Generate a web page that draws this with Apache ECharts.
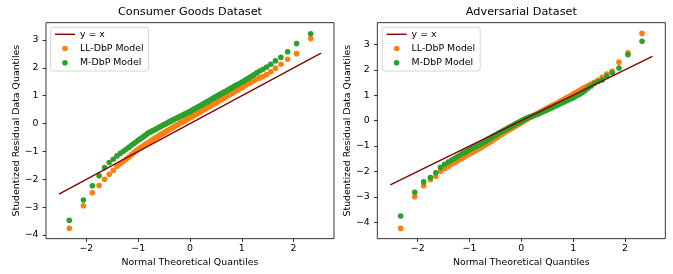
<!DOCTYPE html>
<html>
<head>
<meta charset="utf-8">
<script src="https://cdn.jsdelivr.net/npm/echarts@6/dist/echarts.min.js"></script>
<style>
html,body{margin:0;padding:0;background:#fff;}
#c{width:673px;height:274px;}
</style>
</head>
<body>
<div id="c"></div>
<script>
// Theoretical normal quantiles (x positions of the 100 points)
const theoreticalQuantiles = [
-2.330,-2.058,-1.885,-1.755,-1.650,-1.560,-1.481,-1.410,-1.346,-1.287,
-1.232,-1.180,-1.132,-1.086,-1.042,-1.000,-0.960,-0.922,-0.885,-0.849,
-0.814,-0.780,-0.746,-0.714,-0.682,-0.651,-0.621,-0.591,-0.561,-0.533,
-0.504,-0.477,-0.449,-0.422,-0.395,-0.368,-0.342,-0.315,-0.289,-0.263,
-0.238,-0.212,-0.187,-0.162,-0.137,-0.112,-0.087,-0.062,-0.037,-0.012,
0.012,0.037,0.062,0.087,0.112,0.137,0.162,0.187,0.212,0.238,
0.263,0.289,0.315,0.342,0.368,0.395,0.422,0.449,0.477,0.504,
0.533,0.561,0.591,0.621,0.651,0.682,0.714,0.746,0.780,0.814,
0.849,0.885,0.922,0.960,1.000,1.042,1.086,1.132,1.180,1.232,
1.287,1.346,1.410,1.481,1.560,1.650,1.755,1.885,2.058,2.330
];

// Consumer Goods Dataset – studentized residual quantiles
const consumerLL = [
-3.76,-2.95,-2.48,-2.22,-2.00,-1.82,-1.68,-1.53,-1.44,-1.36,
-1.28,-1.20,-1.12,-1.05,-0.98,-0.92,-0.87,-0.82,-0.77,-0.73,
-0.69,-0.65,-0.61,-0.57,-0.53,-0.50,-0.46,-0.43,-0.39,-0.36,
-0.33,-0.30,-0.27,-0.24,-0.21,-0.18,-0.15,-0.12,-0.09,-0.06,
-0.04,-0.01,0.02,0.04,0.07,0.10,0.12,0.15,0.17,0.20,
0.23,0.25,0.28,0.31,0.34,0.36,0.39,0.42,0.44,0.47,
0.50,0.52,0.55,0.58,0.61,0.64,0.67,0.70,0.73,0.76,
0.79,0.82,0.85,0.88,0.91,0.95,0.98,1.02,1.05,1.09,
1.13,1.17,1.21,1.25,1.29,1.34,1.39,1.44,1.49,1.54,
1.59,1.64,1.69,1.76,1.86,1.99,2.13,2.31,2.51,3.05
];
const consumerM = [
-3.47,-2.74,-2.23,-1.87,-1.58,-1.40,-1.28,-1.16,-1.07,-0.99,
-0.92,-0.85,-0.78,-0.72,-0.66,-0.60,-0.55,-0.50,-0.45,-0.40,
-0.35,-0.31,-0.28,-0.25,-0.22,-0.19,-0.16,-0.13,-0.10,-0.07,
-0.04,-0.02,0.01,0.04,0.07,0.09,0.12,0.14,0.17,0.19,
0.21,0.24,0.26,0.28,0.31,0.33,0.35,0.38,0.40,0.42,
0.45,0.47,0.50,0.53,0.55,0.58,0.60,0.63,0.66,0.68,
0.71,0.74,0.77,0.79,0.82,0.85,0.88,0.91,0.94,0.97,
1.00,1.03,1.06,1.09,1.12,1.15,1.19,1.22,1.26,1.29,
1.33,1.37,1.40,1.44,1.48,1.53,1.58,1.63,1.69,1.75,
1.82,1.89,1.95,2.03,2.13,2.25,2.38,2.58,2.87,3.22
];

// Adversarial Dataset – studentized residual quantiles
const adversarialLL = [
-4.24,-2.99,-2.56,-2.32,-2.19,-1.99,-1.88,-1.80,-1.72,-1.65,
-1.58,-1.52,-1.46,-1.40,-1.35,-1.30,-1.26,-1.22,-1.18,-1.14,
-1.10,-1.06,-1.02,-0.98,-0.94,-0.90,-0.86,-0.82,-0.78,-0.74,
-0.70,-0.66,-0.63,-0.59,-0.56,-0.52,-0.49,-0.45,-0.42,-0.39,
-0.36,-0.33,-0.30,-0.27,-0.24,-0.21,-0.18,-0.15,-0.12,-0.09,
-0.06,-0.03,0.00,0.03,0.06,0.09,0.12,0.14,0.17,0.20,
0.22,0.25,0.28,0.31,0.34,0.37,0.40,0.43,0.46,0.49,
0.52,0.55,0.58,0.61,0.64,0.67,0.71,0.75,0.79,0.83,
0.87,0.91,0.95,0.99,1.04,1.09,1.14,1.20,1.26,1.32,
1.38,1.44,1.51,1.59,1.70,1.83,1.94,2.30,2.67,3.43
];
const adversarialM = [
-3.75,-2.82,-2.41,-2.24,-2.05,-1.84,-1.72,-1.63,-1.55,-1.48,
-1.41,-1.35,-1.29,-1.24,-1.19,-1.14,-1.10,-1.06,-1.02,-0.99,
-0.96,-0.92,-0.88,-0.84,-0.80,-0.76,-0.72,-0.68,-0.65,-0.61,
-0.58,-0.55,-0.51,-0.48,-0.45,-0.42,-0.39,-0.36,-0.33,-0.30,
-0.27,-0.24,-0.22,-0.19,-0.16,-0.13,-0.11,-0.08,-0.06,-0.03,
0.00,0.02,0.05,0.07,0.10,0.12,0.14,0.16,0.18,0.20,
0.22,0.24,0.26,0.28,0.31,0.33,0.36,0.38,0.41,0.43,
0.46,0.49,0.51,0.54,0.57,0.60,0.63,0.66,0.69,0.72,
0.76,0.79,0.83,0.86,0.90,0.95,1.00,1.05,1.11,1.18,
1.27,1.36,1.46,1.54,1.60,1.75,1.88,2.07,2.59,3.12
];

// Reference line y = x (end points)
const refLineX = [-2.53, 2.53];

// Tick labels
const xTicks = [-2, -1, 0, 1, 2];
const yTicks = [-4, -3, -2, -1, 0, 1, 2, 3];

const titles = ['Consumer Goods Dataset', 'Adversarial Dataset'];
const seriesNames = ['y = x', 'LL-DbP Model', 'M-DbP Model'];

const FONT = 'DejaVu Sans';
const pairs = (xs, ys) => xs.map((x, i) => [x, ys[i]]);
const fmt = v => (v < 0 ? '\u2212' + Math.abs(v) : String(v));

const grids = [
  {left: 46, top: 22.67, width: 288, height: 216},
  {left: 377.33, top: 22.67, width: 288, height: 216}
];
const yRanges = [[-4.13, 3.622], [-4.643, 3.852]];

function xAxis(i) {
  return {
    type: 'value', gridIndex: i, min: -2.78, max: 2.78, position: 'bottom',
    name: 'Normal Theoretical Quantiles', nameLocation: 'middle', nameGap: 18.5,
    nameTextStyle: {fontFamily: FONT, fontSize: 9.4, color: '#000'},
    axisLine: {show: false, onZero: false},
    splitLine: {show: false},
    axisTick: {show: true, inside: false, length: 3.3, customValues: xTicks,
      lineStyle: {color: '#000', width: 0.8}},
    axisLabel: {customValues: xTicks, formatter: fmt, margin: 5.5,
      fontFamily: FONT, fontSize: 9.4, color: '#000'}
  };
}
function yAxis(i) {
  return {
    type: 'value', gridIndex: i, min: yRanges[i][0], max: yRanges[i][1], position: 'left',
    name: 'Studentized Residual Data Quantiles', nameLocation: 'middle', nameGap: 22.5,
    nameTextStyle: {fontFamily: FONT, fontSize: 9.4, color: '#000'},
    axisLine: {show: false, onZero: false},
    splitLine: {show: false},
    axisTick: {show: true, inside: false, length: 3.3, customValues: yTicks,
      lineStyle: {color: '#000', width: 0.8}},
    axisLabel: {customValues: yTicks, formatter: fmt, margin: 7.5,
      fontFamily: FONT, fontSize: 9.4, color: '#000'}
  };
}

const dataSets = [[consumerLL, consumerM], [adversarialLL, adversarialM]];
const series = [];
dataSets.forEach((ds, i) => {
  series.push({
    name: seriesNames[1], type: 'scatter', xAxisIndex: i, yAxisIndex: i,
    data: pairs(theoreticalQuantiles, ds[0]), symbolSize: 5.6, z: 2,
    itemStyle: {color: '#ff7f0e', opacity: 1}
  });
  series.push({
    name: seriesNames[2], type: 'scatter', xAxisIndex: i, yAxisIndex: i,
    data: pairs(theoreticalQuantiles, ds[1]), symbolSize: 5.6, z: 3,
    itemStyle: {color: '#2ca02c', opacity: 1}
  });
  series.push({
    name: seriesNames[0], type: 'line', xAxisIndex: i, yAxisIndex: i,
    data: pairs(refLineX, refLineX), symbol: 'none', showSymbol: false, z: 4,
    lineStyle: {color: '#8b0000', width: 1.4}, itemStyle: {color: '#8b0000'}
  });
});

function legend(left) {
  return {
    left: left, top: 27.3, orient: 'vertical',
    data: [
      {name: seriesNames[0], icon: 'path://M0,0H20V1.4H0Z'},
      {name: seriesNames[1], icon: 'circle'},
      {name: seriesNames[2], icon: 'circle'}
    ],
    itemWidth: 20, itemHeight: 5.6, itemGap: 2.2,
    padding: [1, 5, 2.3, 4.3],
    backgroundColor: 'rgba(255,255,255,0.8)', borderColor: '#cccccc',
    borderWidth: 0.8, borderRadius: 2.5,
    textStyle: {fontFamily: FONT, fontSize: 9.4, color: '#000', lineHeight: 12},
    selectedMode: false
  };
}

const option = {
  animation: false,
  backgroundColor: '#fff',
  title: titles.map((t, i) => ({
    text: t, left: grids[i].left + grids[i].width / 2, top: 6.5, textAlign: 'center', padding: 0,
    textStyle: {fontFamily: FONT, fontSize: 11.25, fontWeight: 'normal', color: '#000'}
  })),
  grid: grids.map(g => Object.assign({show: true, borderColor: '#000', borderWidth: 0.8,
    backgroundColor: 'transparent'}, g)),
  xAxis: [xAxis(0), xAxis(1)],
  yAxis: [yAxis(0), yAxis(1)],
  legend: [legend(50.7), legend(382.3)],
  series: series
};

const chart = echarts.init(document.getElementById('c'), null, {renderer: 'canvas'});
chart.setOption(option);
</script>
</body>
</html>
